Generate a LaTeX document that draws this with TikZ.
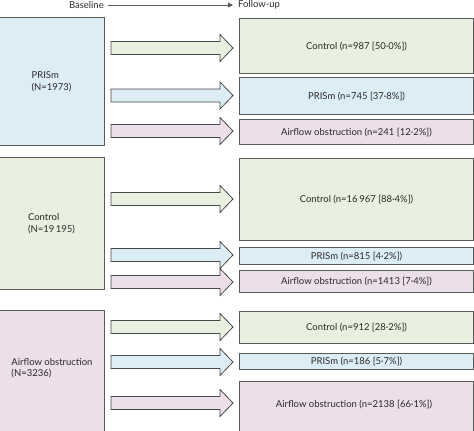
\documentclass[tikz,border=0pt]{standalone}
\usepackage{fontspec}
\setmainfont{Lato}
\usetikzlibrary{arrows.meta}
\definecolor{cgreen}{HTML}{E9F0DF}
\definecolor{cblue}{HTML}{DDEDF6}
\definecolor{cpink}{HTML}{ECDFE9}
\definecolor{cline}{HTML}{5A5A5A}
\definecolor{ctext}{HTML}{2A2A2A}
\newcommand{\barrow}[2]{%
  \draw[arrowline, fill=#2] (111,#1-6.5) -- (220,#1-6.5) -- (220,#1-13.5) -- (233,#1)
    -- (220,#1+13.5) -- (220,#1+6.5) -- (111,#1+6.5) -- cycle;}
\begin{document}
\begin{tikzpicture}[x=1pt,y=-1pt,
  box/.style={draw=cline, line width=1.1pt, rectangle, inner sep=0pt, anchor=north west, text=ctext, font=\fontsize{9.5}{11.5}\selectfont},
  lbox/.style={box, minimum width=106pt, align=left},
  rbox/.style={box, minimum width=234pt},
  txt/.style={text=ctext, font=\fontsize{9.5}{11.5}\selectfont, inner sep=0pt},
  arrowline/.style={draw=cline!80!black, line width=0.8pt, line join=miter}]
\clip (0,0) rectangle (474,431);
% header
\node[txt, anchor=east] (base) at (104,5) {Baseline};
\node[txt, anchor=west] (fu) at (238,5) {Follow-up};
\draw[cline, line width=0.8pt, -{Triangle[length=5pt,width=5pt]}] (base.east) ++(4,0) coordinate (hs) -- (fu.west -| 233,0) coordinate (he);
% section 1: PRISm
\node[lbox, fill=cblue, minimum height=128pt] (L1) at (-2,17) {PRISm\\(N=1973)};
\node[rbox, fill=cgreen, minimum height=55pt] (R1a) at (239,18) {Control (n=987 [50·0\%])};
\node[rbox, fill=cblue, minimum height=37pt] (R1b) at (239,77) {PRISm (n=745 [37·8\%])};
\node[rbox, fill=cpink, minimum height=25pt] (R1c) at (239,119) {Airflow obstruction (n=241 [12·2\%])};
\barrow{48}{cgreen}
\barrow{95.5}{cblue}
\barrow{131}{cpink}
% section 2: Control
\node[lbox, fill=cgreen, minimum height=132pt] (L2) at (-2,157) {Control\\(N=19\,195)};
\node[rbox, fill=cgreen, minimum height=82pt] (R2a) at (239,158) {Control (n=16\,967 [88·4\%])};
\node[rbox, fill=cblue, minimum height=17pt] (R2b) at (239,247) {PRISm (n=815 [4·2\%])};
\node[rbox, fill=cpink, minimum height=22pt] (R2c) at (239,270) {Airflow obstruction (n=1413 [7·4\%])};
\barrow{199}{cgreen}
\barrow{255}{cblue}
\barrow{282}{cpink}
% section 3: Airflow obstruction
\node[lbox, fill=cpink, minimum height=130pt] (L3) at (-2,310) {};
\node[txt, align=left] (L3t) at (52,368) {Airflow obstruction\\(N=3236)};
\node[rbox, fill=cgreen, minimum height=32pt] (R3a) at (239,311) {Control (n=912 [28·2\%])};
\node[rbox, fill=cblue, minimum height=16pt] (R3b) at (239,353) {PRISm (n=186 [5·7\%])};
\node[rbox, fill=cpink, minimum height=60pt] (R3c) at (239,381) {};
\node[txt] (R3ct) at (354,405) {Airflow obstruction (n=2138 [66·1\%])};
\barrow{327}{cgreen}
\barrow{362}{cblue}
\barrow{403}{cpink}
\end{tikzpicture}
\end{document}
